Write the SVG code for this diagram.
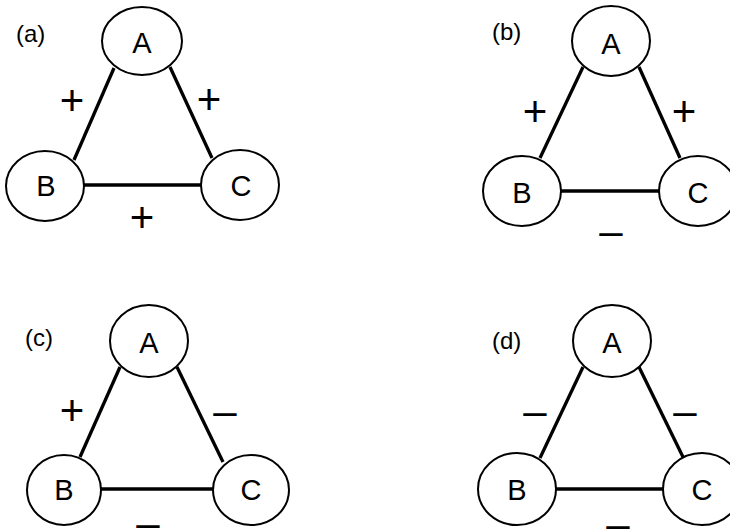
<svg xmlns="http://www.w3.org/2000/svg" width="730" height="532" viewBox="0 0 730 532">
<style>
.n ellipse{fill:#fff;stroke:#000;stroke-width:2}
.n text{font-family:"Liberation Sans",Arial,sans-serif;font-size:29px;text-anchor:middle;fill:#000}
.e line{stroke:#000;stroke-width:3.3}
.s{font-family:"Liberation Sans",Arial,sans-serif;font-size:42px;text-anchor:middle;fill:#000}
.p{font-family:"Liberation Sans",Arial,sans-serif;font-size:24px;fill:#000}
</style>
<rect width="730" height="532" fill="#fff"/>
<g id="edges" class="e">
<line x1="114" y1="68" x2="74" y2="160"/>
<line x1="170" y1="67" x2="212" y2="158"/>
<line x1="84" y1="185" x2="202" y2="185"/>
<line x1="583" y1="67" x2="540" y2="158"/>
<line x1="639" y1="67" x2="680" y2="158"/>
<line x1="561" y1="191" x2="660" y2="191"/>
<line x1="120" y1="367" x2="80" y2="457"/>
<line x1="177" y1="367" x2="223" y2="462"/>
<line x1="101" y1="489" x2="213" y2="489"/>
<line x1="583" y1="367" x2="540" y2="458"/>
<line x1="639" y1="367" x2="683" y2="457"/>
<line x1="556" y1="489" x2="663" y2="489"/>
</g>
<g id="a-A" class="n"><ellipse cx="142" cy="41" rx="40" ry="34"/><text x="142" y="53">A</text></g>
<g id="a-B" class="n"><ellipse cx="45" cy="186" rx="39" ry="35"/><text x="46" y="196">B</text></g>
<g id="a-C" class="n"><ellipse cx="240" cy="185" rx="39" ry="35"/><text x="241" y="196">C</text></g>
<g id="b-A" class="n"><ellipse cx="611" cy="41" rx="39" ry="35"/><text x="611" y="54">A</text></g>
<g id="b-B" class="n"><ellipse cx="522" cy="191" rx="39" ry="35"/><text x="522" y="203">B</text></g>
<g id="b-C" class="n"><ellipse cx="698" cy="191" rx="39" ry="35"/><text x="698" y="203">C</text></g>
<g id="c-A" class="n"><ellipse cx="149" cy="341" rx="39" ry="36"/><text x="149" y="353">A</text></g>
<g id="c-B" class="n"><ellipse cx="64" cy="490" rx="37" ry="35"/><text x="64" y="500">B</text></g>
<g id="c-C" class="n"><ellipse cx="251" cy="490" rx="38" ry="35"/><text x="251" y="500">C</text></g>
<g id="d-A" class="n"><ellipse cx="612" cy="341" rx="39" ry="36"/><text x="612" y="353">A</text></g>
<g id="d-B" class="n"><ellipse cx="517" cy="489" rx="39" ry="36"/><text x="517" y="500">B</text></g>
<g id="d-C" class="n"><ellipse cx="702" cy="489" rx="39" ry="36"/><text x="702" y="500">C</text></g>
<g id="labels">
<text class="p" x="16" y="42">(a)</text>
<text class="p" x="492" y="40">(b)</text>
<text class="p" x="25" y="346">(c)</text>
<text class="p" x="492" y="349">(d)</text>
<text class="s" x="72" y="115">+</text>
<text class="s" x="209" y="114">+</text>
<text class="s" x="142" y="232">+</text>
<text class="s" x="535" y="126">+</text>
<text class="s" x="684" y="126">+</text>
<text class="s" x="611" y="245">–</text>
<text class="s" x="72" y="425">+</text>
<text class="s" x="225" y="425">–</text>
<text class="s" x="148" y="537">–</text>
<text class="s" x="535" y="425">–</text>
<text class="s" x="685" y="425">–</text>
<text class="s" x="618" y="538">–</text>
</g>
</svg>
